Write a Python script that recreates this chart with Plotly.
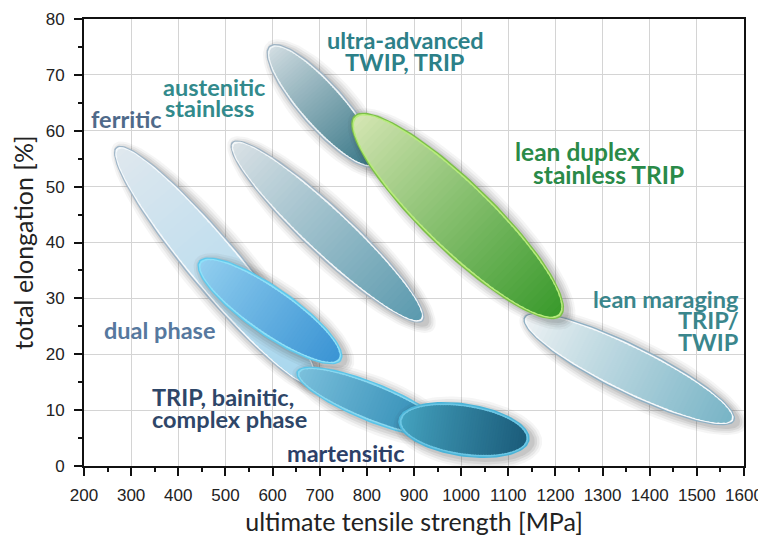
import numpy as np
import plotly.graph_objects as go

# ---------------- data ----------------
materials = ["ferritic", "dual phase", "TRIP, bainitic, complex phase", "martensitic",
             "austenitic stainless", "ultra-advanced TWIP, TRIP",
             "lean maraging TRIP/TWIP", "lean duplex stainless TRIP"]
# ends of each property field (ultimate tensile strength [MPa], total elongation [%])
uts_start = [270, 446, 654, 870, 516, 595, 1136, 775]
elong_start = [56.9, 36.5, 16.8, 8.2, 57.8, 75.0, 26.5, 62.5]
uts_end = [690, 743, 966, 1142, 917, 817, 1577, 1210]
elong_end = [14.5, 19.0, 6.1, 4.7, 26.1, 53.9, 8.2, 27.0]

x_ticks = list(range(200, 1601, 100))
y_ticks = list(range(0, 81, 10))

# ---------------- style ----------------
field_width_px = [50, 45, 36, 50, 45, 43, 46, 67]
grad_start = ["#e0e8ee", "#92cfef", "#7cc0dc", "#45a3c0", "#dbe2e6", "#d2dde2", "#eef2f4", "#d6e6b4"]
grad_end = ["#a6d6ee", "#3b94d4", "#2a88b2", "#1b5c7a", "#5b9aae", "#3a7888", "#78b4c6", "#3a9a2c"]
rim_col = ["#f4f9fc", "#8ee0f8", "#8ad8f0", "#6cc6e4", "#f2f6f8", "#eef4f6", "#f6f9fb", "#b8ec7c"]
outer_col = ["#9fb6c8", "#5ec8ec", "#5ac4e8", "#4ab4d8", "#9fb4c4", "#9fb4c4", "#8fb0c4", "#7cc048"]

# the page body has an 8px margin, so the figure is laid out 8px in from the window edge
PAGE_OFF = 8
W, H = 766, 536 - PAGE_OFF
ML, MR, MT, MB = 84 - PAGE_OFF, 22 + PAGE_OFF, 19 - PAGE_OFF, 70
PW, PH = W - ML - MR, H - MT - MB
X0, X1, Y0, Y1 = 200, 1600, 0, 80
kx = PW / (X1 - X0)
ky = PH / (Y1 - Y0)


def to_px(x, y):
    return (np.asarray(x) - X0) * kx, (np.asarray(y) - Y0) * ky


def to_data(px, py):
    return px / kx + X0, py / ky + Y0


def hex2rgb(h):
    h = h.lstrip("#")
    return np.array([int(h[i:i + 2], 16) for i in (0, 2, 4)], float)


def mix(c0, c1, t):
    c = hex2rgb(c0) * (1 - t) + hex2rgb(c1) * t
    return "rgb(%d,%d,%d)" % tuple(np.round(c).astype(int))


fig = go.Figure()

NSTRIP = 48
for i in range(len(materials)):
    ax, ay = to_px(uts_start[i], elong_start[i])
    bx, by = to_px(uts_end[i], elong_end[i])
    cx, cy = (ax + bx) / 2, (ay + by) / 2
    dx, dy = bx - ax, by - ay
    L = np.hypot(dx, dy)
    a = L / 2
    b = field_width_px[i] / 2
    e1 = np.array([dx, dy]) / L
    e2 = np.array([-e1[1], e1[0]])

    def ell_pts(u, v, ox=0.0, oy=0.0):
        px = cx + ox + u * e1[0] + v * e2[0]
        py = cy + oy + u * e1[1] + v * e2[1]
        return to_data(px, py)

    th = np.linspace(0, 2 * np.pi, 121)
    # soft shadow / glow
    for k, g in enumerate([10, 7.5, 5, 2.5]):
        u = (a + g) * np.cos(th)
        v = (b + g) * np.sin(th)
        xs, ys = ell_pts(u, v, ox=4, oy=-3)
        fig.add_trace(go.Scatter(x=xs, y=ys, mode="lines", fill="toself",
                                 fillcolor="rgba(60,60,60,%.3f)" % (0.05 + 0.02 * k),
                                 line=dict(width=0), hoverinfo="skip", showlegend=False))
    # outer rim
    u = (a + 1.5) * np.cos(th)
    v = (b + 1.5) * np.sin(th)
    xs, ys = ell_pts(u, v)
    fig.add_trace(go.Scatter(x=xs, y=ys, mode="lines", fill="toself", fillcolor=outer_col[i],
                             line=dict(width=0), hoverinfo="skip", showlegend=False))
    u = a * np.cos(th)
    v = b * np.sin(th)
    xs, ys = ell_pts(u, v)
    fig.add_trace(go.Scatter(x=xs, y=ys, mode="lines", fill="toself", fillcolor=rim_col[i],
                             line=dict(width=0), hoverinfo="skip", showlegend=False))
    # gradient body (strips along the major axis)
    ai, bi = a - 1.8, b - 1.8
    edges = np.linspace(-ai, ai, NSTRIP + 1)
    for s in range(NSTRIP):
        u0 = edges[s]
        u1 = min(edges[s + 1] + (edges[1] - edges[0]) * 0.6, ai)
        uu = np.linspace(u0, u1, 8)
        vv = bi * np.sqrt(np.clip(1 - (uu / ai) ** 2, 0, 1))
        U = np.concatenate([uu, uu[::-1]])
        V = np.concatenate([vv, -vv[::-1]])
        xs, ys = ell_pts(U, V)
        t = ((s + 0.5) / NSTRIP) ** 0.9
        fig.add_trace(go.Scatter(x=xs, y=ys, mode="lines", fill="toself",
                                 fillcolor=mix(grad_start[i], grad_end[i], t),
                                 line=dict(width=0), hoverinfo="skip", showlegend=False))

# ---------------- labels ----------------
LABEL_FONT = "Lato"


def px2d(px, py):
    # px, py: window pixel position
    return X0 + (px - PAGE_OFF - ML) / kx, Y0 + (H - MB - (py - PAGE_OFF)) / ky


labels = [
    ("ferritic", 90, 119, "left", "#4f6a8a", 23.5),
    ("austenitic", 162, 87, "left", "#328a8c", 23.5),
    ("stainless", 164, 108, "left", "#328a8c", 23.5),
    ("ultra-advanced", 405, 40, "center", "#2c8088", 23.5),
    ("TWIP, TRIP", 405, 62, "center", "#2c8088", 23.5),
    ("lean duplex", 514, 151, "left", "#2a8a48", 24.5),
    ("stainless TRIP", 532, 174, "left", "#2a8a48", 24.5),
    ("lean maraging", 740, 299, "right", "#3a868c", 23.5),
    ("TRIP/", 677, 320, "left", "#3a868c", 23.5),
    ("TWIP", 677, 342, "left", "#3a868c", 23.5),
    ("dual phase", 103, 330, "left", "#56789e", 23.5),
    ("TRIP, bainitic,", 151, 397, "left", "#2e4668", 23.5),
    ("complex phase", 151, 419, "left", "#2e4668", 23.5),
    ("martensitic", 286, 453, "left", "#2c4068", 23.5),
]
for txt, px, py, anc, col, fs in labels:
    xd, yd = px2d(px, py)
    fig.add_annotation(x=xd, y=yd, xref="x", yref="y", text=txt, showarrow=False,
                       xanchor=anc, yanchor="middle", borderpad=0,
                       font=dict(family=LABEL_FONT, size=fs, color=col, weight="bold"))

axis_common = dict(showline=True, linecolor="#111111", linewidth=2, mirror=True,
                   ticks="outside", ticklen=8, tickwidth=1.5, tickcolor="#111111",
                   showgrid=True, gridcolor="#d4d4d4", gridwidth=1, zeroline=False,
                   automargin=False, ticklabeloverflow="allow",
                   tickfont=dict(family="Liberation Sans", size=17, color="#222222"))

fig.update_xaxes(range=[X0, X1], tickvals=x_ticks, ticklabelstandoff=5,
                 minor=dict(ticks="outside", ticklen=4, tickwidth=1.5, tickcolor="#111111",
                            dtick=50, showgrid=False),
                 title=dict(text="ultimate tensile strength [MPa]", standoff=12,
                            font=dict(family="Lato", size=25, color="#222222")),
                 **axis_common)
fig.update_yaxes(range=[Y0, Y1], tickvals=y_ticks, ticklabelstandoff=6,
                 minor=dict(ticks="outside", ticklen=4, tickwidth=1.5, tickcolor="#111111",
                            dtick=5, showgrid=False),
                 title=dict(text="total elongation [%]", standoff=12,
                            font=dict(family="Lato", size=25, color="#222222")),
                 **axis_common)

fig.update_layout(width=W, height=H, margin=dict(l=ML, r=MR, t=MT, b=MB, autoexpand=False),
                  paper_bgcolor="white", plot_bgcolor="white", showlegend=False)

fig.write_html("out.html")
